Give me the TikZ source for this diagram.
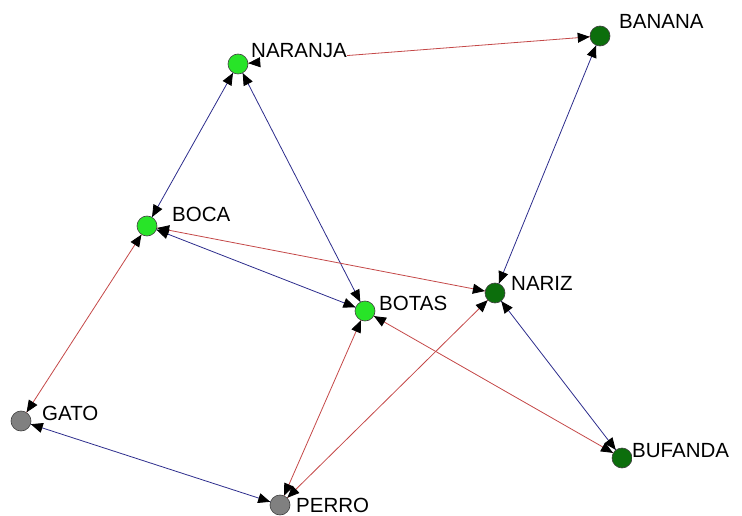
\documentclass[tikz,border=0pt]{standalone}
\usepackage{fontspec}
\setmainfont{Liberation Sans}
\usetikzlibrary{arrows.meta}

\definecolor{lightgreen}{RGB}{40,228,40}
\definecolor{darkgreen}{RGB}{12,110,12}
\definecolor{nodegray}{RGB}{128,128,128}
\definecolor{edgered}{RGB}{196,72,72}
\definecolor{edgeblue}{RGB}{44,44,140}

\tikzset{
  vertex/.style={circle, draw=black!75, line width=0.6pt, minimum size=20pt, inner sep=0pt},
  tag/.style={anchor=base west, fill=white, inner sep=0pt, text depth=6pt, font=\fontsize{20.5}{24}\selectfont},
  tie/.style={line width=0.8pt},
  tips/.style={draw=black, line width=0.8pt, line cap=butt, dash pattern=on 0pt off 2000pt,
    {Triangle[length=12pt,width=10pt,color=black]}-{Triangle[length=12pt,width=10pt,color=black]}},
}

\begin{document}
\begin{tikzpicture}[x=1pt, y=-1pt]
\useasboundingbox (0,0) rectangle (742,516);

% Vertices
\node[vertex, fill=lightgreen] (naranja) at (238,64) {};
\node[vertex, fill=darkgreen]  (banana)  at (600,36) {};
\node[vertex, fill=lightgreen] (boca)    at (147,226) {};
\node[vertex, fill=lightgreen] (botas)   at (365,311) {};
\node[vertex, fill=darkgreen]  (nariz)   at (495,293) {};
\node[vertex, fill=nodegray]   (gato)    at (21,421) {};
\node[vertex, fill=nodegray]   (perro)   at (280,505) {};
\node[vertex, fill=darkgreen]  (bufanda) at (622,458) {};

% Ties (lines first, tips after the labels)
\def\ties{naranja/banana/edgered, naranja/boca/edgeblue, naranja/botas/edgeblue,
  banana/nariz/edgeblue, boca/nariz/edgered, boca/botas/edgeblue, boca/gato/edgered,
  botas/perro/edgered, botas/bufanda/edgered, nariz/perro/edgered,
  nariz/bufanda/edgeblue, gato/perro/edgeblue}
\foreach \a/\b/\c in \ties
  \draw[tie, draw=\c] (\a) -- (\b);

% Labels
\node[tag] (naranja-tag) at (251,58)  {NARANJA};
\node[tag] (banana-tag)  at (619,29)  {BANANA};
\node[tag] (boca-tag)    at (172,222) {BOCA};
\node[tag] (botas-tag)   at (379,310) {BOTAS};
\node[tag] (nariz-tag)   at (511,290) {NARIZ};
\node[tag] (gato-tag)    at (42,420)  {GATO};
\node[tag] (perro-tag)   at (296,512) {PERRO};
\node[tag] (bufanda-tag) at (632,457) {BUFANDA};

% Arrow tips on top
\foreach \a/\b/\c in \ties
  \draw[tips] (\a) -- (\b);
\end{tikzpicture}
\end{document}
